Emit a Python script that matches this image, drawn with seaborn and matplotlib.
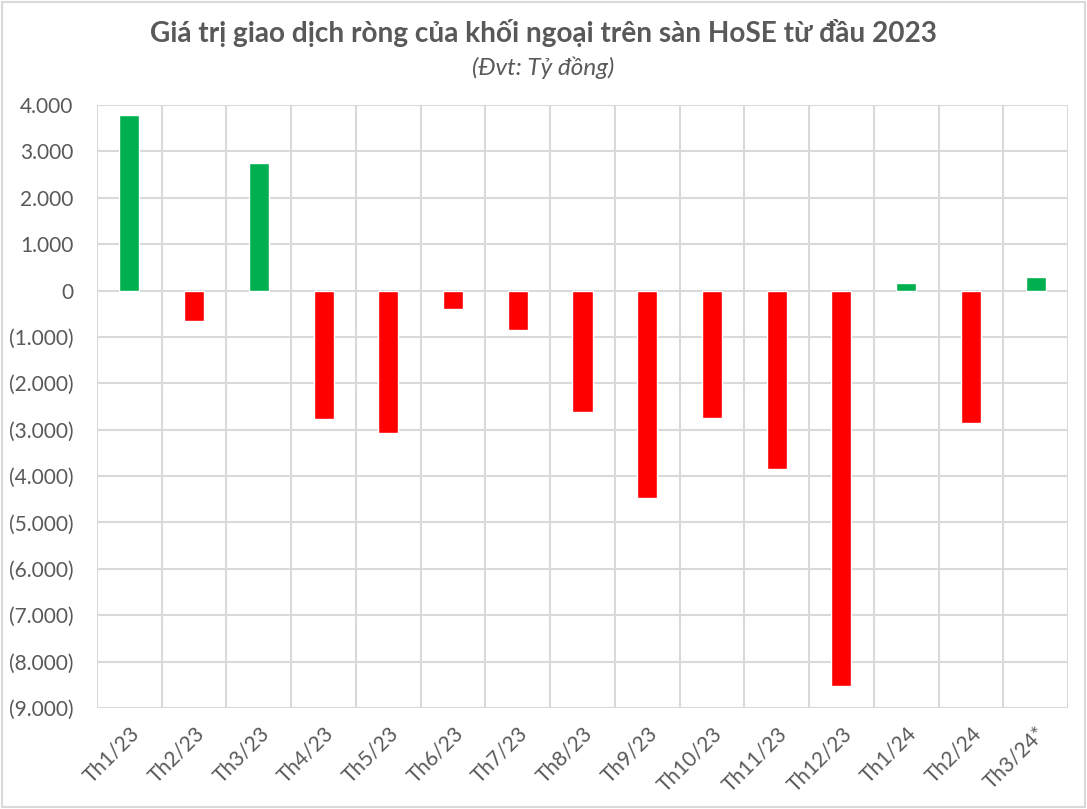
import matplotlib
matplotlib.use("Agg")
import matplotlib.pyplot as plt
import seaborn as sns
import pandas as pd
from matplotlib.ticker import FuncFormatter, MultipleLocator
from matplotlib.patches import Rectangle

categories = ["Th1/23", "Th2/23", "Th3/23", "Th4/23", "Th5/23", "Th6/23", "Th7/23",
              "Th8/23", "Th9/23", "Th10/23", "Th11/23", "Th12/23", "Th1/24", "Th2/24", "Th3/24*"]
values = [3790, -650, 2740, -2780, -3080, -390, -840, -2620, -4470, -2740, -3845, -8530, 170, -2845, 295]

title = "Giá trị giao dịch ròng của khối ngoại trên sàn HoSE từ đầu 2023"
subtitle = "(Đvt: Tỷ đồng)"

sns.set_style("white")
plt.rcParams['font.family'] = ['Lato', 'DejaVu Sans']

df = pd.DataFrame({"cat": categories, "val": values})
df["sign"] = ["pos" if v >= 0 else "neg" for v in values]

fig = plt.figure(figsize=(10.87, 8.09), dpi=100)
ax = fig.add_axes([97/1087, 1 - 708/809, (1068 - 97)/1087, (708 - 105)/809])

sns.barplot(data=df, x="cat", y="val", hue="sign", dodge=False,
            palette={"pos": "#00B050", "neg": "#FF0000"}, width=0.31,
            saturation=1, legend=False, ax=ax, zorder=3)

ax.set_ylim(-9000, 4000)
ax.set_xlim(-0.5, len(categories) - 0.5)
ax.yaxis.set_major_locator(MultipleLocator(1000))

def fmt(v, pos):
    v = int(round(v))
    if v == 0:
        return "0"
    s = f"{abs(v):,}".replace(",", ".")
    return f"({s})" if v < 0 else s

ax.yaxis.set_major_formatter(FuncFormatter(fmt))
ax.set_xticks(range(len(categories)))
ax.set_xticks([i - 0.5 for i in range(len(categories) + 1)], minor=True)
ax.set_xticklabels(categories, rotation=45, ha="right", rotation_mode="anchor")

ax.grid(axis="y", which="major", color="#d9d9d9", linewidth=1.5, zorder=0)
ax.grid(axis="x", which="minor", color="#d9d9d9", linewidth=1.5, zorder=0)
ax.grid(axis="x", which="major", visible=False)
for s in ax.spines.values():
    s.set_visible(False)

ax.tick_params(axis="both", which="both", length=0, labelsize=15, colors="#595959")
ax.tick_params(axis="y", pad=17)
ax.tick_params(axis="x", pad=11)
ax.set_xlabel("")
ax.set_ylabel("")

fig.text(0.5, 1 - 33/809, title, ha="center", va="center", fontsize=20.2,
         fontweight="bold", color="#595959")
fig.text(0.5, 1 - 68/809, subtitle, ha="center", va="center", fontsize=17.5,
         fontstyle="italic", color="#595959")

fig.patches.append(Rectangle((0.002, 0.003), 0.996, 0.994, transform=fig.transFigure,
                             fill=False, edgecolor="#d9d9d9", linewidth=1.5))

fig.savefig("out.png", dpi=100)
